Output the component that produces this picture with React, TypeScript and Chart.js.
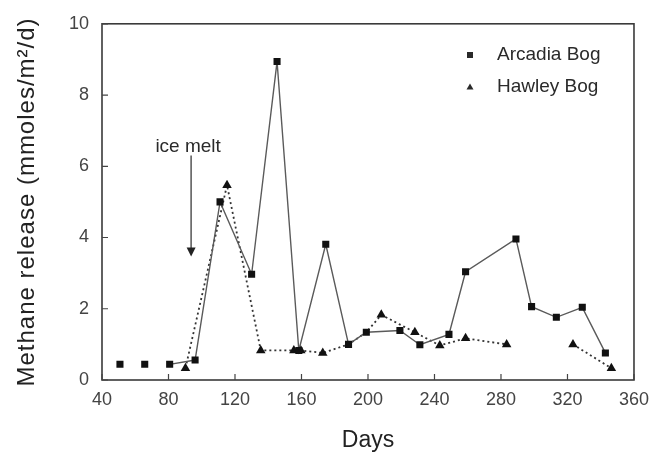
import React, { useEffect, useRef } from "react";
import { Chart, registerables } from "chart.js";

Chart.register(...registerables);

// ---- data ----
const arcadiaDays = [50.8, 58, 65.7, 72, 80.7, 96, 111, 130, 145.3, 158.4, 174.6, 188.3, 199, 219.2, 231.2, 248.7, 258.7, 289, 298.4, 313.3, 328.9, 342.8];
const arcadiaValues: (number | null)[] = [0.44, null, 0.44, null, 0.44, 0.56, 5.0, 2.97, 8.94, 0.83, 3.81, 1.0, 1.34, 1.39, 0.99, 1.28, 3.04, 3.96, 2.06, 1.76, 2.04, 0.76];

const hawleyDays = [90.2, 115.2, 135.5, 155.4, 159.6, 172.8, 188.3, 199, 208, 228.2, 243.2, 258.7, 283.4, 303, 323.3, 346.4];
const hawleyValues: (number | null)[] = [0.33, 5.47, 0.83, 0.83, 0.83, 0.76, 1.0, 1.34, 1.83, 1.34, 0.97, 1.17, 1.0, null, 1.0, 0.33];

const xTicks = [40, 80, 120, 160, 200, 240, 280, 320, 360];
const yTicks = [0, 2, 4, 6, 8, 10];

const seriesNames = ["Arcadia Bog", "Hawley Bog"];
const xTitle = "Days";
const yTitle = "Methane release (mmoles/m\u00B2/d)";
const annotationText = "ice melt";
const annotationDay = 93.6;
const annotationFrom = 6.3;
const annotationTo = 3.47;

const FONT = '"Liberation Sans", Arial, Helvetica, sans-serif';

// a Hawley point lying exactly under an Arcadia square is drawn without its own marker
function coveredByArcadia(x: number, y: number | null) {
  if (y === null) return false;
  return arcadiaDays.some((d, i) => d === x && arcadiaValues[i] !== null && Math.abs((arcadiaValues[i] as number) - y) < 0.05);
}

const decorPlugin = {
  id: "decor",
  afterDraw(chart: any) {
    const { ctx, chartArea } = chart;
    const xs = chart.scales.x;
    const ys = chart.scales.y;
    ctx.save();
    // frame
    ctx.strokeStyle = "#3a3a3a";
    ctx.lineWidth = 1.6;
    ctx.strokeRect(chartArea.left, chartArea.top, chartArea.right - chartArea.left, chartArea.bottom - chartArea.top);
    // inward ticks
    ctx.lineWidth = 1.2;
    ctx.strokeStyle = "#444";
    ctx.beginPath();
    xTicks.forEach((v) => {
      const px = xs.getPixelForValue(v);
      ctx.moveTo(px, chartArea.bottom);
      ctx.lineTo(px, chartArea.bottom - 6);
    });
    yTicks.forEach((v) => {
      const py = ys.getPixelForValue(v);
      ctx.moveTo(chartArea.left, py);
      ctx.lineTo(chartArea.left + 6, py);
    });
    ctx.stroke();

    // axis titles
    ctx.fillStyle = "#222";
    ctx.textAlign = "center";
    ctx.textBaseline = "middle";
    ctx.font = `23px ${FONT}`;
    ctx.fillText(xTitle, (chartArea.left + chartArea.right) / 2, 441);
    ctx.save();
    ctx.translate(27, 202);
    ctx.rotate(-Math.PI / 2);
    ctx.font = `24px ${FONT}`;
    try { (ctx as any).letterSpacing = "1px"; } catch (e) {}
    ctx.fillText(yTitle, 0, 0);
    ctx.restore();

    // legend
    ctx.font = `19px ${FONT}`;
    ctx.textAlign = "left";
    ctx.fillStyle = "#2a2a2a";
    const lx = 470;
    const ly1 = 55;
    const ly2 = 87;
    ctx.fillRect(lx - 3, ly1 - 3, 6, 6);
    ctx.beginPath();
    ctx.moveTo(lx, ly2 - 3.5);
    ctx.lineTo(lx + 3.5, ly2 + 2.5);
    ctx.lineTo(lx - 3.5, ly2 + 2.5);
    ctx.closePath();
    ctx.fill();
    ctx.fillText(seriesNames[0], 497, ly1);
    ctx.fillText(seriesNames[1], 497, ly2);

    // annotation
    const ax = xs.getPixelForValue(annotationDay);
    const ay1 = ys.getPixelForValue(annotationFrom);
    const ay2 = ys.getPixelForValue(annotationTo);
    ctx.textAlign = "center";
    ctx.font = `19px ${FONT}`;
    ctx.fillText(annotationText, ax - 3, ay1 - 9);
    ctx.strokeStyle = "#555";
    ctx.lineWidth = 1.5;
    ctx.beginPath();
    ctx.moveTo(ax, ay1);
    ctx.lineTo(ax, ay2 - 8);
    ctx.stroke();
    ctx.fillStyle = "#222";
    ctx.beginPath();
    ctx.moveTo(ax - 4.5, ay2 - 9);
    ctx.lineTo(ax + 4.5, ay2 - 9);
    ctx.lineTo(ax, ay2);
    ctx.closePath();
    ctx.fill();
    ctx.restore();
  },
};

export default function App() {
  const ref = useRef<HTMLCanvasElement | null>(null);
  useEffect(() => {
    document.body.style.margin = "0";
    const canvas = ref.current;
    if (!canvas) return;
    const arcadia = arcadiaDays.map((d, i) => ({ x: d, y: arcadiaValues[i] }));
    const hawley = hawleyDays.map((d, i) => ({ x: d, y: hawleyValues[i] }));
    const chart = new Chart(canvas, {
      type: "scatter",
      data: {
        datasets: [
          {
            label: seriesNames[0],
            data: arcadia as any,
            showLine: true,
            spanGaps: false,
            borderColor: "#5a5a5a",
            borderWidth: 1.4,
            backgroundColor: "#111",
            pointBackgroundColor: "#111",
            pointBorderColor: "#111",
            pointBorderWidth: 0,
            pointStyle: "rect",
            pointRadius: 5,
          },
          {
            label: seriesNames[1],
            data: hawley as any,
            showLine: true,
            spanGaps: false,
            borderColor: "#333",
            borderWidth: 1.8,
            borderDash: [2, 3],
            backgroundColor: "#111",
            pointBackgroundColor: "#111",
            pointBorderColor: "#111",
            pointBorderWidth: 0,
            pointStyle: "triangle",
            pointRadius: (c: any) => (c.raw && coveredByArcadia(c.raw.x, c.raw.y) ? 0 : 5.5),
          },
        ],
      },
      options: {
        responsive: false,
        animation: false,
        devicePixelRatio: 1,
        layout: { padding: { top: 20, right: 21, left: 0, bottom: 0 } },
        plugins: { legend: { display: false }, tooltip: { enabled: false } },
        scales: {
          x: {
            type: "linear",
            min: 40,
            max: 360,
            afterFit: (s: any) => { s.height = 79; },
            afterBuildTicks: (s: any) => { s.ticks = xTicks.map((v) => ({ value: v })); },
            grid: { display: false, drawTicks: false },
            border: { display: false },
            ticks: { color: "#444", padding: 9, font: { size: 18, family: FONT }, maxRotation: 0, autoSkip: false },
          },
          y: {
            type: "linear",
            min: 0,
            max: 10,
            afterFit: (s: any) => { s.width = 102; },
            afterBuildTicks: (s: any) => { s.ticks = yTicks.map((v) => ({ value: v })); },
            grid: { display: false, drawTicks: false },
            border: { display: false },
            ticks: { color: "#444", padding: 13, font: { size: 18, family: FONT }, autoSkip: false },
          },
        },
      },
      plugins: [decorPlugin],
    });
    return () => chart.destroy();
  }, []);
  return <canvas ref={ref} width={658} height={459} style={{ display: "block" }} />;
}
